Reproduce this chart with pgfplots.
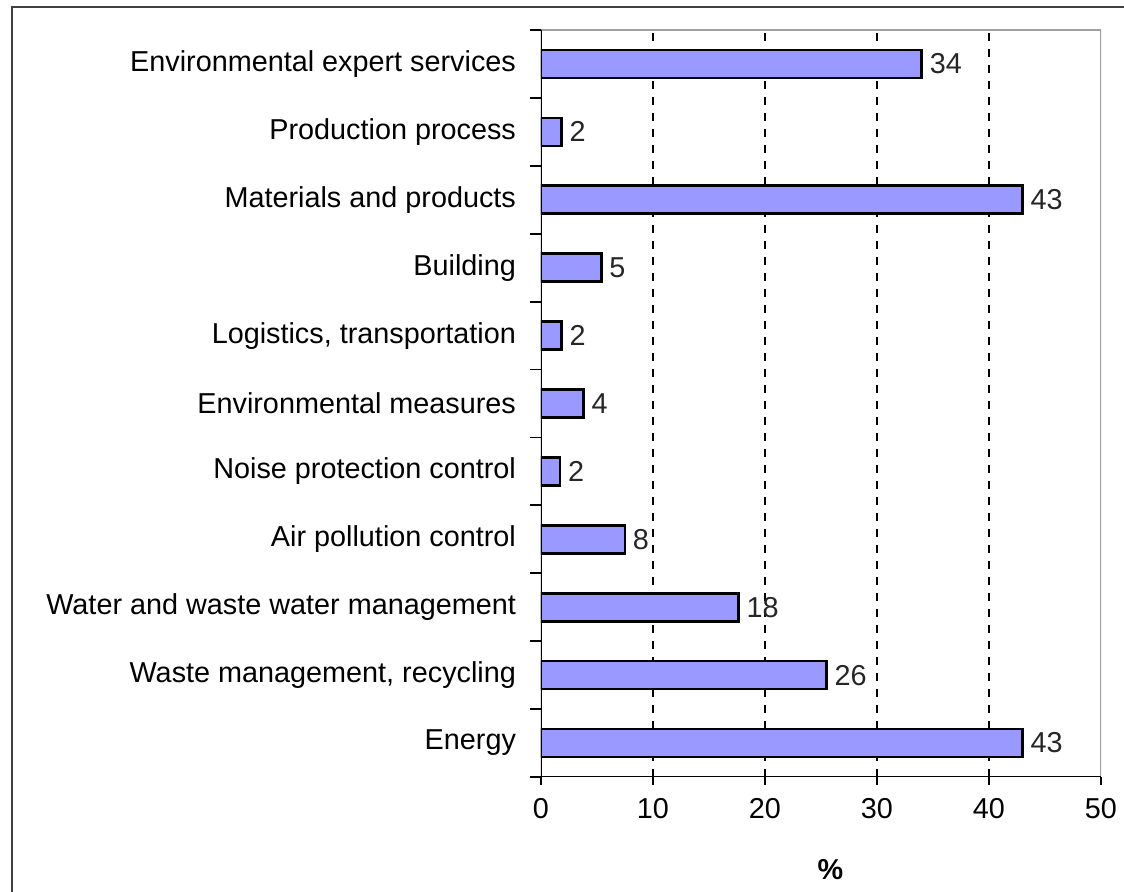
\documentclass[border=0pt]{standalone}
\usepackage{pgfplots}
\pgfplotsset{compat=1.18}
\usepackage{pgfplotstable}
\usepackage{fontspec}
\setmainfont{Liberation Sans}
\definecolor{barfill}{HTML}{9999FF}
\definecolor{framecol}{HTML}{404040}
\definecolor{bordercol}{HTML}{A0A0A0}
\pgfplotstableread{
i v lab
0 43.0 43
1 25.5 26
2 17.65 18
3 7.5 8
4 1.7 2
5 3.8 4
6 1.85 2
7 5.4 5
8 43.0 43
9 1.85 2
10 34.0 34
}\datatab
\begin{document}
\begin{tikzpicture}[font=\fontsize{14.4}{17}\selectfont]
\useasboundingbox (-270.5pt,-57.5pt) rectangle (291.5pt,388.5pt);
\draw[framecol, line width=1pt] (-264.5pt,-60pt) -- (-264.5pt,385pt) -- (295pt,385pt);
\begin{axis}[
  at={(0,0)}, anchor=south west,
  scale only axis, width=280pt, height=373.5pt,
  xmin=0, xmax=50, ymin=-0.5, ymax=10.5,
  xbar, bar width=14pt,
  axis line style={draw=none},
  xtick={0,10,...,50},
  extra x ticks={10,20,30,40},
  extra x tick labels={},
  extra x tick style={grid=major, major tick length=0pt},
  xtick pos=bottom, ytick pos=left,
  ytick={0,...,10},
  yticklabels={Energy,{Waste management, recycling},Water and waste water management,Air pollution control,Noise protection control,Environmental measures,{Logistics, transportation},Building,Materials and products,Production process,Environmental expert services},
  minor ytick={-0.5,0.5,...,10.5},
  tick align=outside,
  major tick length=4pt,
  minor tick length=5.5pt,
  every major y tick/.append style={draw=none},
  every minor y tick/.append style={black, line width=0.9pt},
  every major x tick/.append style={black, line width=0.9pt},
  yticklabel style={xshift=-5pt},
  xticklabel style={yshift=-3pt},
  /pgf/number format/assume math mode=true,
  major x grid style={black, line width=0.6pt, dash pattern=on 4pt off 4pt},
  xlabel={\textbf{\%}},
  every axis x label/.style={at={(rel axis cs:0.517,0)}, anchor=center, yshift=-46.5pt},
  nodes near coords={\pgfplotspointmeta},
  point meta=explicit symbolic,
  every node near coord/.append style={anchor=west, text=black!85},
]
\addplot[fill=barfill, draw=black, line width=1.3pt] table[x=v, y=i, meta=lab] {\datatab};
\draw[bordercol, line width=1pt] (rel axis cs:0,1) -- (rel axis cs:1,1) -- (rel axis cs:1,0);
\draw[black, line width=0.9pt] (rel axis cs:0,1) -- (rel axis cs:0,0) -- (rel axis cs:1,0);
\end{axis}
\end{tikzpicture}
\end{document}
